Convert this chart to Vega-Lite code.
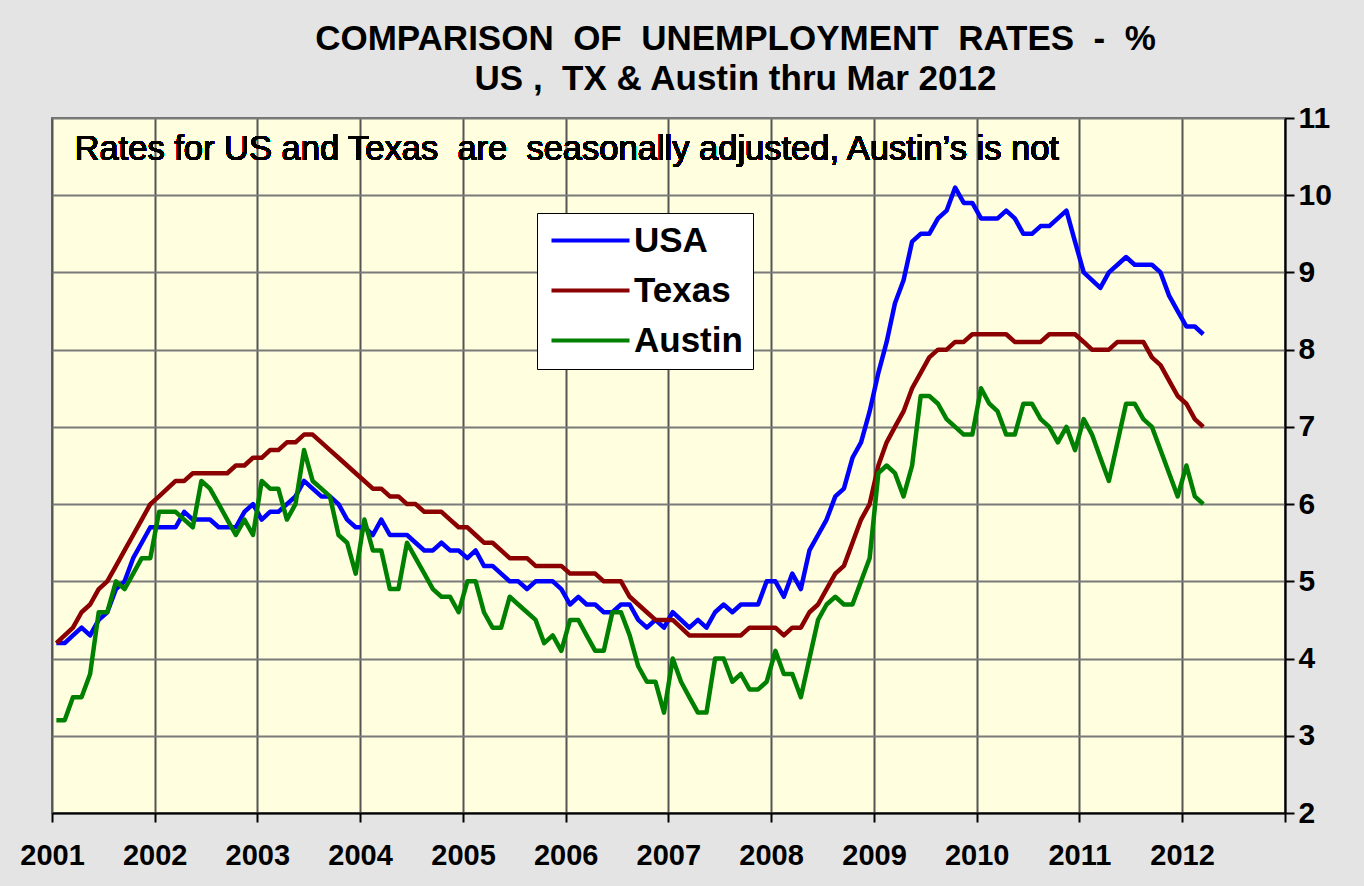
{
  "$schema": "https://vega.github.io/schema/vega-lite/v6.json",
  "width": 1233,
  "height": 695,
  "autosize": {"type": "none"},
  "padding": {"left": 52, "top": 118, "right": 79, "bottom": 73},
  "background": "#e4e4e4",
  "title": {
    "text": ["COMPARISON\u00a0 OF\u00a0 UNEMPLOYMENT\u00a0 RATES\u00a0 -\u00a0 %", "US ,\u00a0 TX & Austin thru Mar 2012"],
    "font": "Liberation Sans",
    "fontSize": 35,
    "fontWeight": "bold",
    "color": "#000000",
    "anchor": "middle",
    "dx": 67,
    "lineHeight": 40,
    "offset": 6
  },
  "config": {
    "view": {"fill": "#FFFFE0", "stroke": "#707070", "strokeWidth": 2},
    "font": "Liberation Sans"
  },
  "data": {
    "values": [
      {"date":"2001-01","USA":4.2,"Texas":4.2,"Austin":3.2},
      {"date":"2001-02","USA":4.2,"Texas":4.3,"Austin":3.2},
      {"date":"2001-03","USA":4.3,"Texas":4.4,"Austin":3.5},
      {"date":"2001-04","USA":4.4,"Texas":4.6,"Austin":3.5},
      {"date":"2001-05","USA":4.3,"Texas":4.7,"Austin":3.8},
      {"date":"2001-06","USA":4.5,"Texas":4.9,"Austin":4.6},
      {"date":"2001-07","USA":4.6,"Texas":5.0,"Austin":4.6},
      {"date":"2001-08","USA":4.9,"Texas":5.2,"Austin":5.0},
      {"date":"2001-09","USA":5.0,"Texas":5.4,"Austin":4.9},
      {"date":"2001-10","USA":5.3,"Texas":5.6,"Austin":5.1},
      {"date":"2001-11","USA":5.5,"Texas":5.8,"Austin":5.3},
      {"date":"2001-12","USA":5.7,"Texas":6.0,"Austin":5.3},
      {"date":"2002-01","USA":5.7,"Texas":6.1,"Austin":5.9},
      {"date":"2002-02","USA":5.7,"Texas":6.2,"Austin":5.9},
      {"date":"2002-03","USA":5.7,"Texas":6.3,"Austin":5.9},
      {"date":"2002-04","USA":5.9,"Texas":6.3,"Austin":5.8},
      {"date":"2002-05","USA":5.8,"Texas":6.4,"Austin":5.7},
      {"date":"2002-06","USA":5.8,"Texas":6.4,"Austin":6.3},
      {"date":"2002-07","USA":5.8,"Texas":6.4,"Austin":6.2},
      {"date":"2002-08","USA":5.7,"Texas":6.4,"Austin":6.0},
      {"date":"2002-09","USA":5.7,"Texas":6.4,"Austin":5.8},
      {"date":"2002-10","USA":5.7,"Texas":6.5,"Austin":5.6},
      {"date":"2002-11","USA":5.9,"Texas":6.5,"Austin":5.8},
      {"date":"2002-12","USA":6.0,"Texas":6.6,"Austin":5.6},
      {"date":"2003-01","USA":5.8,"Texas":6.6,"Austin":6.3},
      {"date":"2003-02","USA":5.9,"Texas":6.7,"Austin":6.2},
      {"date":"2003-03","USA":5.9,"Texas":6.7,"Austin":6.2},
      {"date":"2003-04","USA":6.0,"Texas":6.8,"Austin":5.8},
      {"date":"2003-05","USA":6.1,"Texas":6.8,"Austin":6.0},
      {"date":"2003-06","USA":6.3,"Texas":6.9,"Austin":6.7},
      {"date":"2003-07","USA":6.2,"Texas":6.9,"Austin":6.3},
      {"date":"2003-08","USA":6.1,"Texas":6.8,"Austin":6.2},
      {"date":"2003-09","USA":6.1,"Texas":6.7,"Austin":6.1},
      {"date":"2003-10","USA":6.0,"Texas":6.6,"Austin":5.6},
      {"date":"2003-11","USA":5.8,"Texas":6.5,"Austin":5.5},
      {"date":"2003-12","USA":5.7,"Texas":6.4,"Austin":5.1},
      {"date":"2004-01","USA":5.7,"Texas":6.3,"Austin":5.8},
      {"date":"2004-02","USA":5.6,"Texas":6.2,"Austin":5.4},
      {"date":"2004-03","USA":5.8,"Texas":6.2,"Austin":5.4},
      {"date":"2004-04","USA":5.6,"Texas":6.1,"Austin":4.9},
      {"date":"2004-05","USA":5.6,"Texas":6.1,"Austin":4.9},
      {"date":"2004-06","USA":5.6,"Texas":6.0,"Austin":5.5},
      {"date":"2004-07","USA":5.5,"Texas":6.0,"Austin":5.3},
      {"date":"2004-08","USA":5.4,"Texas":5.9,"Austin":5.1},
      {"date":"2004-09","USA":5.4,"Texas":5.9,"Austin":4.9},
      {"date":"2004-10","USA":5.5,"Texas":5.9,"Austin":4.8},
      {"date":"2004-11","USA":5.4,"Texas":5.8,"Austin":4.8},
      {"date":"2004-12","USA":5.4,"Texas":5.7,"Austin":4.6},
      {"date":"2005-01","USA":5.3,"Texas":5.7,"Austin":5.0},
      {"date":"2005-02","USA":5.4,"Texas":5.6,"Austin":5.0},
      {"date":"2005-03","USA":5.2,"Texas":5.5,"Austin":4.6},
      {"date":"2005-04","USA":5.2,"Texas":5.5,"Austin":4.4},
      {"date":"2005-05","USA":5.1,"Texas":5.4,"Austin":4.4},
      {"date":"2005-06","USA":5.0,"Texas":5.3,"Austin":4.8},
      {"date":"2005-07","USA":5.0,"Texas":5.3,"Austin":4.7},
      {"date":"2005-08","USA":4.9,"Texas":5.3,"Austin":4.6},
      {"date":"2005-09","USA":5.0,"Texas":5.2,"Austin":4.5},
      {"date":"2005-10","USA":5.0,"Texas":5.2,"Austin":4.2},
      {"date":"2005-11","USA":5.0,"Texas":5.2,"Austin":4.3},
      {"date":"2005-12","USA":4.9,"Texas":5.2,"Austin":4.1},
      {"date":"2006-01","USA":4.7,"Texas":5.1,"Austin":4.5},
      {"date":"2006-02","USA":4.8,"Texas":5.1,"Austin":4.5},
      {"date":"2006-03","USA":4.7,"Texas":5.1,"Austin":4.3},
      {"date":"2006-04","USA":4.7,"Texas":5.1,"Austin":4.1},
      {"date":"2006-05","USA":4.6,"Texas":5.0,"Austin":4.1},
      {"date":"2006-06","USA":4.6,"Texas":5.0,"Austin":4.6},
      {"date":"2006-07","USA":4.7,"Texas":5.0,"Austin":4.6},
      {"date":"2006-08","USA":4.7,"Texas":4.8,"Austin":4.3},
      {"date":"2006-09","USA":4.5,"Texas":4.7,"Austin":3.9},
      {"date":"2006-10","USA":4.4,"Texas":4.6,"Austin":3.7},
      {"date":"2006-11","USA":4.5,"Texas":4.5,"Austin":3.7},
      {"date":"2006-12","USA":4.4,"Texas":4.5,"Austin":3.3},
      {"date":"2007-01","USA":4.6,"Texas":4.5,"Austin":4.0},
      {"date":"2007-02","USA":4.5,"Texas":4.4,"Austin":3.7},
      {"date":"2007-03","USA":4.4,"Texas":4.3,"Austin":3.5},
      {"date":"2007-04","USA":4.5,"Texas":4.3,"Austin":3.3},
      {"date":"2007-05","USA":4.4,"Texas":4.3,"Austin":3.3},
      {"date":"2007-06","USA":4.6,"Texas":4.3,"Austin":4.0},
      {"date":"2007-07","USA":4.7,"Texas":4.3,"Austin":4.0},
      {"date":"2007-08","USA":4.6,"Texas":4.3,"Austin":3.7},
      {"date":"2007-09","USA":4.7,"Texas":4.3,"Austin":3.8},
      {"date":"2007-10","USA":4.7,"Texas":4.4,"Austin":3.6},
      {"date":"2007-11","USA":4.7,"Texas":4.4,"Austin":3.6},
      {"date":"2007-12","USA":5.0,"Texas":4.4,"Austin":3.7},
      {"date":"2008-01","USA":5.0,"Texas":4.4,"Austin":4.1},
      {"date":"2008-02","USA":4.8,"Texas":4.3,"Austin":3.8},
      {"date":"2008-03","USA":5.1,"Texas":4.4,"Austin":3.8},
      {"date":"2008-04","USA":4.9,"Texas":4.4,"Austin":3.5},
      {"date":"2008-05","USA":5.4,"Texas":4.6,"Austin":4.0},
      {"date":"2008-06","USA":5.6,"Texas":4.7,"Austin":4.5},
      {"date":"2008-07","USA":5.8,"Texas":4.9,"Austin":4.7},
      {"date":"2008-08","USA":6.1,"Texas":5.1,"Austin":4.8},
      {"date":"2008-09","USA":6.2,"Texas":5.2,"Austin":4.7},
      {"date":"2008-10","USA":6.6,"Texas":5.5,"Austin":4.7},
      {"date":"2008-11","USA":6.8,"Texas":5.8,"Austin":5.0},
      {"date":"2008-12","USA":7.2,"Texas":6.0,"Austin":5.3},
      {"date":"2009-01","USA":7.7,"Texas":6.5,"Austin":6.4},
      {"date":"2009-02","USA":8.1,"Texas":6.8,"Austin":6.5},
      {"date":"2009-03","USA":8.6,"Texas":7.0,"Austin":6.4},
      {"date":"2009-04","USA":8.9,"Texas":7.2,"Austin":6.1},
      {"date":"2009-05","USA":9.4,"Texas":7.5,"Austin":6.5},
      {"date":"2009-06","USA":9.5,"Texas":7.7,"Austin":7.4},
      {"date":"2009-07","USA":9.5,"Texas":7.9,"Austin":7.4},
      {"date":"2009-08","USA":9.7,"Texas":8.0,"Austin":7.3},
      {"date":"2009-09","USA":9.8,"Texas":8.0,"Austin":7.1},
      {"date":"2009-10","USA":10.1,"Texas":8.1,"Austin":7.0},
      {"date":"2009-11","USA":9.9,"Texas":8.1,"Austin":6.9},
      {"date":"2009-12","USA":9.9,"Texas":8.2,"Austin":6.9},
      {"date":"2010-01","USA":9.7,"Texas":8.2,"Austin":7.5},
      {"date":"2010-02","USA":9.7,"Texas":8.2,"Austin":7.3},
      {"date":"2010-03","USA":9.7,"Texas":8.2,"Austin":7.2},
      {"date":"2010-04","USA":9.8,"Texas":8.2,"Austin":6.9},
      {"date":"2010-05","USA":9.7,"Texas":8.1,"Austin":6.9},
      {"date":"2010-06","USA":9.5,"Texas":8.1,"Austin":7.3},
      {"date":"2010-07","USA":9.5,"Texas":8.1,"Austin":7.3},
      {"date":"2010-08","USA":9.6,"Texas":8.1,"Austin":7.1},
      {"date":"2010-09","USA":9.6,"Texas":8.2,"Austin":7.0},
      {"date":"2010-10","USA":9.7,"Texas":8.2,"Austin":6.8},
      {"date":"2010-11","USA":9.8,"Texas":8.2,"Austin":7.0},
      {"date":"2010-12","USA":9.4,"Texas":8.2,"Austin":6.7},
      {"date":"2011-01","USA":9.0,"Texas":8.1,"Austin":7.1},
      {"date":"2011-02","USA":8.9,"Texas":8.0,"Austin":6.9},
      {"date":"2011-03","USA":8.8,"Texas":8.0,"Austin":6.6},
      {"date":"2011-04","USA":9.0,"Texas":8.0,"Austin":6.3},
      {"date":"2011-05","USA":9.1,"Texas":8.1,"Austin":6.8},
      {"date":"2011-06","USA":9.2,"Texas":8.1,"Austin":7.3},
      {"date":"2011-07","USA":9.1,"Texas":8.1,"Austin":7.3},
      {"date":"2011-08","USA":9.1,"Texas":8.1,"Austin":7.1},
      {"date":"2011-09","USA":9.1,"Texas":7.9,"Austin":7.0},
      {"date":"2011-10","USA":9.0,"Texas":7.8,"Austin":6.7},
      {"date":"2011-11","USA":8.7,"Texas":7.6,"Austin":6.4},
      {"date":"2011-12","USA":8.5,"Texas":7.4,"Austin":6.1},
      {"date":"2012-01","USA":8.3,"Texas":7.3,"Austin":6.5},
      {"date":"2012-02","USA":8.3,"Texas":7.1,"Austin":6.1},
      {"date":"2012-03","USA":8.2,"Texas":7.0,"Austin":6.0}
    ]
  },
  "layer": [
    {
      "transform": [{"fold": ["USA", "Texas", "Austin"], "as": ["series", "rate"]}],
      "mark": {"type": "line", "strokeWidth": 4.5, "strokeJoin": "round", "clip": true},
      "encoding": {
        "x": {
          "field": "date",
          "type": "temporal",
          "timeUnit": "utcyearmonth",
          "bandPosition": 0.5,
          "scale": {"type": "utc", "domain": [{"year": 2001, "month": 1, "date": 1, "utc": true}, {"year": 2013, "month": 1, "date": 1, "utc": true}]},
          "axis": {
            "title": null,
            "orient": "bottom",
            "values": [
              {"year": 2001, "month": 1, "date": 1, "utc": true},
              {"year": 2002, "month": 1, "date": 1, "utc": true},
              {"year": 2003, "month": 1, "date": 1, "utc": true},
              {"year": 2004, "month": 1, "date": 1, "utc": true},
              {"year": 2005, "month": 1, "date": 1, "utc": true},
              {"year": 2006, "month": 1, "date": 1, "utc": true},
              {"year": 2007, "month": 1, "date": 1, "utc": true},
              {"year": 2008, "month": 1, "date": 1, "utc": true},
              {"year": 2009, "month": 1, "date": 1, "utc": true},
              {"year": 2010, "month": 1, "date": 1, "utc": true},
              {"year": 2011, "month": 1, "date": 1, "utc": true},
              {"year": 2012, "month": 1, "date": 1, "utc": true},
              {"year": 2013, "month": 1, "date": 1, "utc": true}
            ],
            "labelExpr": "utcyear(datum.value) > 2012 ? '' : '' + utcyear(datum.value)",
            "labelFont": "Liberation Sans",
            "labelFontSize": 29,
            "labelFontWeight": "bold",
            "labelColor": "#000000",
            "labelPadding": 19,
            "labelFlush": false,
            "labelOverlap": false,
            "domainColor": "#000000",
            "domainWidth": 2,
            "tickColor": "#000000",
            "tickWidth": 2,
            "tickSize": 9,
            "grid": true,
            "gridColor": "#555555",
            "gridWidth": 2
          }
        },
        "y": {
          "field": "rate",
          "type": "quantitative",
          "scale": {"domain": [2, 11], "nice": false, "zero": false},
          "axis": {
            "title": null,
            "orient": "right",
            "values": [2, 3, 4, 5, 6, 7, 8, 9, 10, 11],
            "format": "d",
            "labelFont": "Liberation Sans",
            "labelFontSize": 30,
            "labelFontWeight": "bold",
            "labelColor": "#000000",
            "labelPadding": 4,
            "labelFlush": false,
            "labelOverlap": false,
            "domainColor": "#000000",
            "domainWidth": 2,
            "tickColor": "#000000",
            "tickWidth": 2,
            "tickSize": 9,
            "grid": true,
            "gridColor": "#7a7a7a",
            "gridWidth": 2
          }
        },
        "color": {
          "field": "series",
          "type": "nominal",
          "sort": ["USA", "Texas", "Austin"],
          "scale": {"domain": ["USA", "Texas", "Austin"], "range": ["#0000FF", "#8B0000", "#008000"]},
          "legend": {
            "title": null,
            "orient": "none",
            "legendX": 485,
            "legendY": 95,
            "fillColor": "#FFFFFF",
            "strokeColor": "#000000",
            "padding": 10,
            "labelFont": "Liberation Sans",
            "labelFontSize": 35,
            "labelFontWeight": "bold",
            "labelColor": "#000000",
            "labelOffset": 52,
            "symbolType": "M -1 0 H 5",
            "symbolSize": 676,
            "symbolStrokeWidth": 4,
            "rowPadding": 14
          }
        }
      }
    },
    {
      "mark": {"type": "text", "align": "left", "baseline": "middle", "font": "Liberation Sans", "fontSize": 34.5, "color": "#000000"},
      "encoding": {
        "x": {"datum": {"year": 2001, "month": 3, "date": 22, "utc": true}, "type": "temporal"},
        "y": {"datum": 10.58, "type": "quantitative"},
        "text": {"value": "Rates for US and Texas\u00a0 are\u00a0 seasonally adjusted, Austin\u2019s is not"}
      }
    }
  ]
}
